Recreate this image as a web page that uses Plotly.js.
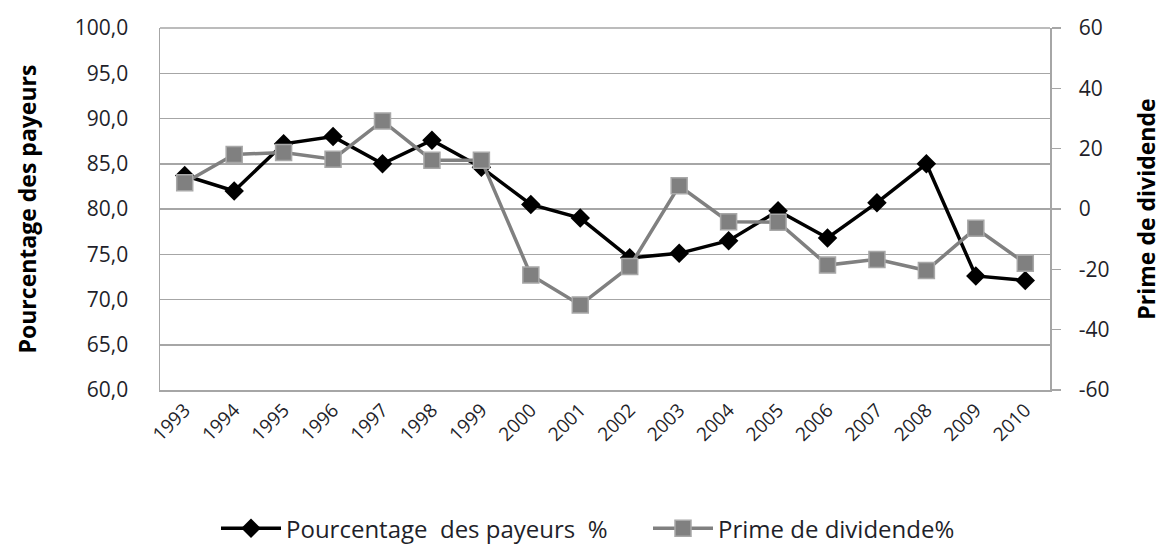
<!DOCTYPE html>
<html>
<head>
<meta charset="utf-8">
<script src="https://cdn.plot.ly/plotly-3.0.1.min.js"></script>
<style>html,body{margin:0;padding:0;background:#fff;}#chart{width:1163px;height:544px;}</style>
</head>
<body>
<div id="chart"></div>
<script>
const years = ["1993","1994","1995","1996","1997","1998","1999","2000","2001","2002","2003","2004","2005","2006","2007","2008","2009","2010"];
const payeurs = [83.7, 82.0, 87.2, 88.0, 85.0, 87.6, 84.6, 80.5, 79.0, 74.6, 75.1, 76.5, 79.8, 76.8, 80.7, 85.0, 72.6, 72.1];
const prime = [8.7, 18.1, 18.7, 16.5, 29.2, 16.2, 16.2, -21.9, -31.8, -19.1, 7.7, -4.2, -4.4, -18.6, -16.7, -20.4, -6.4, -18.0];
const rightTickVals = [-60, -40, -20, 0, 20, 40, 60];
const rightTickText = ["-60", "-40", "-20", "0", "20", "40", "60"];
const nameA = "Pourcentage  des payeurs  %";
const nameB = "Prime de dividende%";
const leftTitle = "Pourcentage des payeurs";
const rightTitle = "Prime de dividende";

const FONT = "Open Sans, Noto Sans, sans-serif";
const GRID = "#a6a6a6";
const TXT = "#1f1f2a";

const traces = [
  {
    x: years, y: payeurs, name: nameA, type: "scatter", mode: "lines+markers",
    line: {color: "#000000", width: 3.5},
    marker: {symbol: "diamond", size: 15, color: "#000000"},
    yaxis: "y", legend: "legend"
  },
  {
    x: years, y: prime, name: nameB, type: "scatter", mode: "lines+markers",
    line: {color: "#808080", width: 3.5},
    marker: {symbol: "square", size: 16, color: "#808080", line: {color: "#a8a8a8", width: 1.5}},
    yaxis: "y2", legend: "legend2"
  }
];

const legendBase = {
  orientation: "h", xref: "container", yref: "container",
  xanchor: "left", y: 0.028, yanchor: "middle",
  font: {family: FONT, size: 24, color: TXT},
  itemwidth: 60, bgcolor: "rgba(0,0,0,0)"
};

const layout = {
  width: 1163, height: 544,
  paper_bgcolor: "#ffffff", plot_bgcolor: "#ffffff",
  separators: ", ",
  font: {family: FONT, color: TXT, size: 21},
  margin: {l: 160, r: 113, t: 28, b: 154},
  showlegend: true,
  legend: Object.assign({}, legendBase, {x: 216 / 1163}),
  legend2: Object.assign({}, legendBase, {x: 648 / 1163}),
  xaxis: {
    type: "category", range: [-0.5, 17.5],
    showline: true, linecolor: GRID, linewidth: 1.5,
    showgrid: false, ticks: "",
    tickangle: -45,
    tickfont: {family: FONT, size: 19, color: TXT},
    automargin: false
  },
  yaxis: {
    range: [60, 100], dtick: 5, tick0: 60, tickformat: ".1f",
    showline: true, linecolor: GRID, linewidth: 1.5,
    showgrid: true, gridcolor: GRID, gridwidth: 1.5,
    zeroline: false, ticks: "",
    ticklabelstandoff: 26,
    tickfont: {family: FONT, size: 21, color: TXT},
    title: {text: leftTitle, font: {family: FONT, size: 23, color: "#000", weight: "bold"}, standoff: 32},
    automargin: false
  },
  yaxis2: {
    range: [-60, 60], tickmode: "array", tickvals: rightTickVals, ticktext: rightTickText,
    overlaying: "y", side: "right",
    showline: true, linecolor: GRID, linewidth: 1.5,
    showgrid: false, zeroline: false,
    ticks: "outside", ticklen: 9, tickcolor: GRID, tickwidth: 1.5,
    ticklabelstandoff: 14,
    tickfont: {family: FONT, size: 21, color: TXT},
    title: {text: rightTitle, font: {family: FONT, size: 23, color: "#000", weight: "bold"}, standoff: 30},
    automargin: false
  },
  shapes: [
    {type: "line", xref: "paper", yref: "paper", x0: 0, x1: 1, y0: 1, y1: 1, line: {color: GRID, width: 1.5}}
  ]
};

Plotly.newPlot("chart", traces, layout, {displayModeBar: false, staticPlot: true});
</script>
</body>
</html>
